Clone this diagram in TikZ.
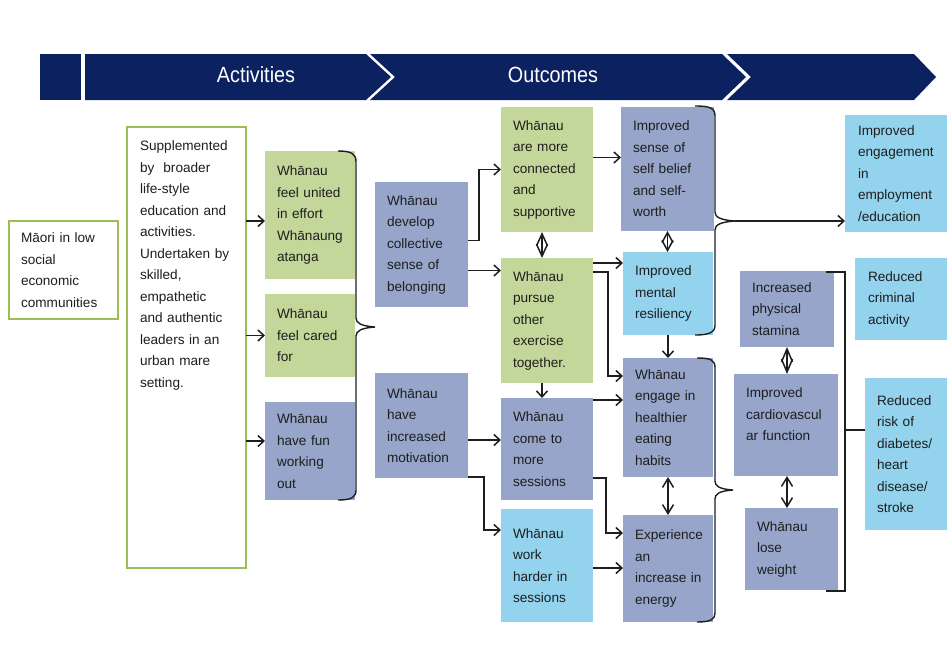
\documentclass[tikz,border=0pt]{standalone}
\usepackage{fontspec}
\setmainfont{Liberation Sans}
\newfontfamily\bandfont[FakeStretch=0.9]{Liberation Sans}
\usetikzlibrary{arrows.meta}
\definecolor{navy}{RGB}{12,33,96}
\definecolor{leaf}{RGB}{196,215,155}
\definecolor{leafline}{RGB}{155,190,85}
\definecolor{slate}{RGB}{150,165,201}
\definecolor{sky}{RGB}{147,211,238}
\definecolor{ink}{RGB}{30,30,30}
\definecolor{wire}{RGB}{30,30,30}
\newcommand\bxfont{\fontsize{13.6pt}{21.5pt}\selectfont}

\begin{document}
\begin{tikzpicture}[x=1pt, y=-1pt,
  box/.style={anchor=north west, inner xsep=12pt, inner ysep=0pt, outer sep=0pt,
              align=left, text=ink, font=\bxfont},
  leafbox/.style={box, fill=leaf},
  slatebox/.style={box, fill=slate},
  skybox/.style={box, fill=sky},
  framebox/.style={box, draw=leafline, line width=1.6pt, fill=white},
  sz/.style n args={3}{minimum width=#1pt, minimum height=#2pt, text width=#3pt},
  link/.style={draw=wire, line width=1.5pt, -{Straight Barb[length=6pt,width=11pt]}},
  twoway/.style={draw=wire, line width=1.5pt,
                 {Straight Barb[length=#1,width=11pt]}-{Straight Barb[length=#1,width=11pt]}},
  curly/.style={draw=wire, line width=1.4pt},
  bandtext/.style={text=white, font=\bandfont\fontsize{22pt}{26pt}\selectfont}
]
\useasboundingbox (0,0) rectangle (947,657);

% header band
\fill[navy] (40,54) rectangle (81,100);
\fill[navy] (85,54) -- (366,54) -- (391,77) -- (366,100) -- (85,100) -- cycle;
\fill[navy] (370,54) -- (722,54) -- (746,77) -- (722,100) -- (370,100) -- (395,77) -- cycle;
\fill[navy] (727,54) -- (914,54) -- (936,77) -- (914,100) -- (727,100) -- (751,77) -- cycle;
\node[bandtext] (acts) at (256,75) {Activities};
\node[bandtext] (outs) at (553,75) {Outcomes};

% starting point and activities
\node[framebox, sz={109}{98}{85}] (maori) at (9,221) {Māori in low\\social\\economic\\communities};
\node[framebox, sz={119}{441}{95}] (sup) at (127,127) {};
\node[box, inner xsep=0pt, text width=104pt] (suptext) at (140,141)
  {Supplemented\\by~ broader\\life-style\\education~and\\activities.\\Undertaken~by\\skilled,\\empathetic\\and~authentic\\leaders~in~an\\urban~mare\\setting.};

% first results
\node[leafbox, sz={90}{128}{66}] (united) at (265,151) {Whānau\\feel~united\\in~effort\\Whānaung\\atanga};
\node[leafbox, sz={90}{83}{66}] (cared) at (265,294) {Whānau\\feel~cared\\for};
\node[slatebox, sz={90}{98}{66}] (fun) at (265,402) {Whānau\\have~fun\\working\\out};

\node[slatebox, sz={93}{125}{69}] (develop) at (375,182) {Whānau\\develop\\collective\\sense~of\\belonging};
\node[slatebox, sz={93}{105}{69}] (motiv) at (375,373) {Whānau\\have\\increased\\motivation};

\node[leafbox, sz={92}{125}{68}] (connected) at (501,107) {Whānau\\are~more\\connected\\and\\supportive};
\node[leafbox, sz={92}{125}{68}] (pursue) at (501,258) {Whānau\\pursue\\other\\exercise\\together.};
\node[slatebox, sz={92}{102}{68}] (sessions) at (501,398) {Whānau\\come~to\\more\\sessions};
\node[skybox, sz={92}{113}{68}] (harder) at (501,509) {Whānau\\work\\harder~in\\sessions};

\node[slatebox, sz={93}{124}{69}] (selfbelief) at (621,107) {Improved\\sense~of\\self~belief\\and~self-\\worth};
\node[skybox, sz={90}{83}{66}] (mental) at (623,252) {Improved\\mental\\resiliency};
\node[slatebox, sz={90}{119}{66}] (eating) at (623,358) {Whānau\\engage~in\\healthier\\eating\\habits};
\node[slatebox, sz={90}{107}{66}] (energy) at (623,515) {Experience\\an\\increase~in\\energy};

\node[slatebox, sz={94}{76}{70}] (stamina) at (740,271) {Increased\\physical\\stamina};
% text in this box sits towards the top, hence the empty last line
\node[slatebox, sz={104}{102}{80}] (cardio) at (734,374) {Improved\\cardiovascul\\ar~function\\\mbox{}};
\node[slatebox, sz={93}{82}{69}] (weight) at (745,508) {Whānau\\lose\\weight};

% long-term results
\node[skybox, sz={115}{117}{89}, inner xsep=13pt] (employ) at (845,115) {Improved\\engagement\\in\\employment\\/education};
\node[skybox, sz={105}{82}{79}, inner xsep=13pt] (criminal) at (855,258) {Reduced\\criminal\\activity};
\node[skybox, sz={95}{152}{71}] (risk) at (865,378) {Reduced\\risk~of\\diabetes/\\heart\\disease/\\stroke};

% activities lead to first results
\draw[link] (sup.east |- 0,221) -- (united.west |- 0,221);
\draw[link] (sup.east |- cared.west) -- (cared.west);
\draw[link] (sup.east |- 0,441) -- (fun.west |- 0,441);

% braces
\draw[curly] (338,151) .. controls (352,151) and (356,154) .. (356,162)
  -- (356,318) .. controls (356,323) and (361,326) .. (375,327)
  .. controls (361,328) and (356,331) .. (356,336)
  -- (356,490) .. controls (356,497) and (352,500) .. (338,500);
\draw[curly] (695,106) .. controls (710,106) and (715,108) .. (715,116)
  -- (715,212) .. controls (715,217) and (720,220) .. (735,221) coordinate (tipA)
  .. controls (720,222) and (715,225) .. (715,230)
  -- (715,325) .. controls (715,332) and (710,335) .. (695,335);
\draw[curly] (697,358) .. controls (711,358) and (715,360) .. (715,368)
  -- (715,481) .. controls (715,486) and (719,489) .. (733,490)
  .. controls (719,491) and (715,494) .. (715,499)
  -- (715,613) .. controls (715,619) and (711,622) .. (697,622);
\draw[curly] (826,272) -- (845,272) -- (845,591) -- (826,591);
\draw[curly] (845,430) -- (risk.west |- 845,430);
\draw[link] (tipA) -- (tipA -| employ.west);

% outcome chains
\draw[link] ([yshift=4pt]develop.east) -- ++(11,0) |- (connected.west);
\draw[link] ([yshift=-26pt]develop.east) -- ([yshift=-26pt]develop.east -| pursue.west);
\draw[link] ([yshift=12pt]connected.east) -- ([yshift=12pt]connected.east -| selfbelief.west);
\draw[twoway=12pt] ([xshift=-5pt]connected.south) -- ([xshift=-5pt]pursue.north);
\draw[twoway=10pt] (selfbelief.south) -- (selfbelief.south |- mental.north);
\draw[link] ([yshift=-5pt]pursue.north east) -- ([yshift=-5pt]pursue.north east -| mental.west);
\draw[link] ([yshift=-14pt]pursue.north east) -- ++(15,0) |- ([yshift=-18pt]eating.north west);
\draw[link] ([xshift=-5pt]pursue.south) -- ([xshift=-5pt]sessions.north);
\draw[link] (mental.south) -- (mental.south |- eating.north);
\draw[link] ([yshift=-14.5pt]motiv.east) -- ([yshift=-14.5pt]motiv.east -| sessions.west);
\draw[link] ([yshift=1pt]motiv.south east) -- ++(16,0) |- ([yshift=-21pt]harder.north west);
\draw[link] ([yshift=-2pt]sessions.north east) -- ([yshift=-2pt]sessions.north east -| eating.west);
\draw[link] ([yshift=22pt]sessions.south east) -- ++(13,0) |- ([yshift=-18pt]energy.north west);
\draw[link] ([yshift=-2.5pt]harder.east) -- ([yshift=-2.5pt]harder.east -| energy.west);
\draw[twoway=9pt] (eating.south) -- (eating.south |- energy.north);
\draw[twoway=13pt] (stamina.south) -- (stamina.south |- cardio.north);
\draw[twoway=9pt] (stamina.south |- cardio.south) -- (stamina.south |- weight.north);
\end{tikzpicture}
\end{document}
